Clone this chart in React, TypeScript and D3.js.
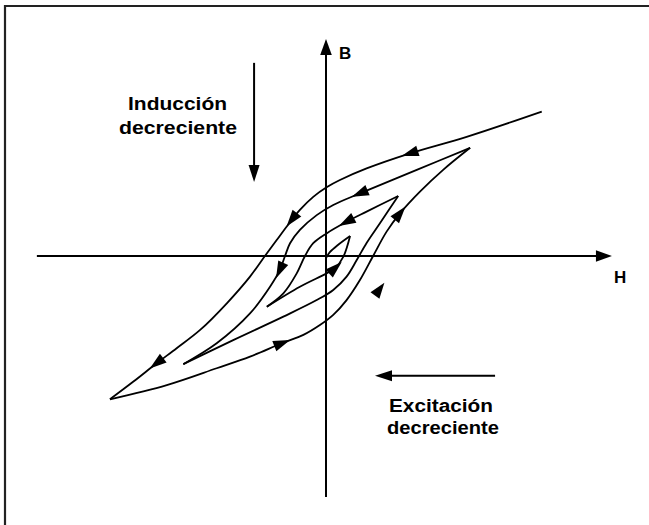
import React, { useEffect, useRef } from "react";
import * as d3 from "d3";

const WIDTH = 649;
const HEIGHT = 525;

// Demagnetisation spiral, one branch per array, points in (H, B) units.
const branchDown1: [number, number][] = [
  [74.4, 49.8], [48.5, 41.1], [29.0, 35.4], [14.0, 30.2], [4.8, 26.2],
  [0.2, 23.7], [-4.4, 20.4], [-9.0, 15.9], [-13.6, 10.1], [-17.0, 5.5],
  [-21.0, 0.1], [-26.2, -7.1], [-34.2, -16.3], [-43.4, -25.5], [-51.5, -31.8],
  [-58.4, -37.0], [-66.4, -43.3], [-74.5, -49.4],
];
const branchUp1: [number, number][] = [
  [-74.5, -49.4], [-54.9, -44.5], [-37.7, -38.7], [-26.2, -34.7], [-15.3, -30.1],
  [-7.8, -27.2], [-2.1, -23.8], [2.5, -20.3], [7.1, -15.2], [11.7, -8.3],
  [16.3, 0.1], [20.9, 8.4], [25.5, 14.7], [32.4, 22.2], [40.4, 29.7], [49.7, 37.3],
];
const branchDown2: [number, number][] = [
  [49.7, 37.3], [31.3, 29.7], [11.7, 21.6], [2.5, 17.6], [-3.2, 14.1],
  [-9.0, 9.0], [-12.4, 4.4], [-14.1, 0.1], [-15.9, -4.8], [-19.3, -10.6],
  [-26.2, -19.8], [-37.7, -30.1], [-49.2, -37.3],
];
const branchUp2: [number, number][] = [
  [-49.2, -37.3], [-32.0, -29.0], [-14.7, -20.9], [-3.2, -15.2], [2.5, -11.7],
  [7.1, -7.1], [10.6, -1.4], [14.0, 4.5], [18.6, 11.3], [24.9, 20.7],
];
const branchDown3: [number, number][] = [
  [24.9, 20.7], [14.0, 15.3], [7.1, 11.8], [0.2, 7.8], [-4.4, 4.4],
  [-7.2, 0.1], [-10.1, -6.0], [-14.7, -12.9], [-20.4, -17.5],
];
const branchUp3: [number, number][] = [
  [-20.4, -17.5], [-9.0, -10.6], [0.2, -6.0], [3.1, -4.2], [6.0, -0.2], [8.3, 6.9],
];
const branchDown4: [number, number][] = [
  [8.3, 6.9], [4.1, 3.8], [1.4, 1.4], [0.0, -0.7],
];

const branches = [
  branchDown1, branchUp1, branchDown2, branchUp2, branchDown3, branchUp3, branchDown4,
];

// Direction arrows sitting on the branches (branch index, approximate H, B).
const branchArrows = [
  { branch: 0, h: 29.0, b: 35.5 },
  { branch: 0, h: -11.4, b: 12.4 },
  { branch: 0, h: -58.3, b: -36.9 },
  { branch: 1, h: -15.3, b: -30.1 },
  { branch: 1, h: 25.5, b: 14.7 },
  { branch: 2, h: 11.7, b: 21.6 },
  { branch: 2, h: -15.9, b: -4.8 },
  { branch: 4, h: 7.1, b: 11.8 },
  { branch: 5, h: 3.1, b: -4.2 },
];
// A lone arrowhead beside the loops.
const looseArrow = { h: 18.3, b: -11.7, angle: -54 };

// Axis extents in (H, B) units.
const hAxisExtent = [-99.7, 98.6];
const bAxisExtent = [-83.1, 74.8];
const axisNames = { h: "H", b: "B" };

// Annotation arrows.
const inductionArrow = { h: -24.8, bFrom: 66.6, bTo: 25.5 };
const excitationArrow = { b: -41.3, hFrom: 58.3, hTo: 16.9 };
const inductionLines = ["Inducción", "decreciente"];
const excitationLines = ["Excitación", "decreciente"];

const FONT = "'Liberation Sans', Arial, Helvetica, sans-serif";

export default function App() {
  const ref = useRef<SVGSVGElement | null>(null);

  useEffect(() => {
    const svg = d3.select(ref.current);
    svg.selectAll("*").remove();

    const cx = 326;
    const cy = 256;
    const x = d3.scaleLinear().domain([-100, 100]).range([cx - 290, cx + 290]);
    const y = d3.scaleLinear().domain([-100, 100]).range([cy + 290, cy - 290]);

    svg.append("rect").attr("width", WIDTH).attr("height", HEIGHT).attr("fill", "#fff");

    // frame (left and top edges)
    svg.append("line").attr("x1", 5).attr("y1", 5).attr("x2", 5).attr("y2", HEIGHT)
      .attr("stroke", "#222").attr("stroke-width", 2.2);
    svg.append("line").attr("x1", 4).attr("y1", 6).attr("x2", WIDTH).attr("y2", 6)
      .attr("stroke", "#222").attr("stroke-width", 2.2);

    const head = (
      g: d3.Selection<SVGGElement, unknown, null, undefined>,
      px: number, py: number, angleDeg: number, fwd = 9, back = 8, half = 5.5
    ) => {
      g.append("path")
        .attr("d", `M${fwd},0L${-back},${half}L${-back},${-half}Z`)
        .attr("transform", `translate(${px},${py}) rotate(${angleDeg})`)
        .attr("fill", "#000");
    };

    const g = svg.append("g");

    // axes
    g.append("line")
      .attr("x1", x(hAxisExtent[0])).attr("y1", y(0))
      .attr("x2", x(hAxisExtent[1]) - 8).attr("y2", y(0))
      .attr("stroke", "#000").attr("stroke-width", 2);
    head(g, x(hAxisExtent[1]) - 8, y(0), 0, 8, 8, 5.8);
    g.append("line")
      .attr("x1", x(0)).attr("y1", y(bAxisExtent[0]))
      .attr("x2", x(0)).attr("y2", y(bAxisExtent[1]) + 8)
      .attr("stroke", "#000").attr("stroke-width", 2);
    head(g, x(0), y(bAxisExtent[1]) + 8, -90, 8, 8, 5.8);

    g.append("text").attr("x", x(0) + 13).attr("y", y(bAxisExtent[1]) + 20)
      .attr("font-family", FONT).attr("font-weight", "bold").attr("font-size", 17)
      .text(axisNames.b);
    g.append("text").attr("x", x(hAxisExtent[1]) + 2).attr("y", y(0) + 27)
      .attr("font-family", FONT).attr("font-weight", "bold").attr("font-size", 17)
      .text(axisNames.h);

    // hysteresis branches
    const line = d3.line<[number, number]>()
      .x((d) => x(d[0]))
      .y((d) => y(d[1]))
      .curve(d3.curveCatmullRom.alpha(0.5));

    const paths = branches.map((pts) =>
      g.append("path")
        .attr("d", line(pts) as string)
        .attr("fill", "none")
        .attr("stroke", "#000")
        .attr("stroke-width", 1.8)
        .attr("stroke-linejoin", "round")
        .node() as SVGPathElement
    );

    branchArrows.forEach((a) => {
      const p = paths[a.branch];
      const total = p.getTotalLength();
      const tx = x(a.h);
      const ty = y(a.b);
      let best = 0;
      let bestD = Infinity;
      for (let s = 0; s <= total; s += 0.5) {
        const pt = p.getPointAtLength(s);
        const d = (pt.x - tx) ** 2 + (pt.y - ty) ** 2;
        if (d < bestD) { bestD = d; best = s; }
      }
      const p0 = p.getPointAtLength(Math.max(0, best - 3));
      const p1 = p.getPointAtLength(Math.min(total, best + 3));
      const c = p.getPointAtLength(best);
      const ang = (Math.atan2(p1.y - p0.y, p1.x - p0.x) * 180) / Math.PI;
      head(g, c.x, c.y, ang, 9, 8, 5.5);
    });

    head(g, x(looseArrow.h), y(looseArrow.b), looseArrow.angle, 9, 7, 5.5);

    // "Inducción decreciente" annotation
    const ix = x(inductionArrow.h);
    g.append("line")
      .attr("x1", ix).attr("y1", y(inductionArrow.bFrom))
      .attr("x2", ix).attr("y2", y(inductionArrow.bTo) - 10)
      .attr("stroke", "#000").attr("stroke-width", 2);
    head(g, ix, y(inductionArrow.bTo) - 8, 90, 8, 9, 5.5);

    const ind = g.append("g").attr("font-family", FONT).attr("font-weight", "bold")
      .attr("font-size", 18.5).attr("text-anchor", "middle");
    ind.append("text").attr("x", 177.5).attr("y", 110)
      .attr("textLength", 99).attr("lengthAdjust", "spacingAndGlyphs").text(inductionLines[0]);
    ind.append("text").attr("x", 178).attr("y", 134)
      .attr("textLength", 118).attr("lengthAdjust", "spacingAndGlyphs").text(inductionLines[1]);

    // "Excitación decreciente" annotation
    const ey = y(excitationArrow.b);
    g.append("line")
      .attr("x1", x(excitationArrow.hFrom)).attr("y1", ey)
      .attr("x2", x(excitationArrow.hTo) + 10).attr("y2", ey)
      .attr("stroke", "#000").attr("stroke-width", 2);
    head(g, x(excitationArrow.hTo) + 8, ey, 180, 8, 9, 5.5);

    const exc = g.append("g").attr("font-family", FONT).attr("font-weight", "bold")
      .attr("font-size", 18).attr("text-anchor", "middle");
    exc.append("text").attr("x", 441).attr("y", 411.5)
      .attr("textLength", 104).attr("lengthAdjust", "spacingAndGlyphs").text(excitationLines[0]);
    exc.append("text").attr("x", 443).attr("y", 434)
      .attr("textLength", 112).attr("lengthAdjust", "spacingAndGlyphs").text(excitationLines[1]);
  }, []);

  return (
    <svg
      ref={ref}
      width={WIDTH}
      height={HEIGHT}
      style={{ position: "absolute", left: 0, top: 0, display: "block" }}
    />
  );
}
